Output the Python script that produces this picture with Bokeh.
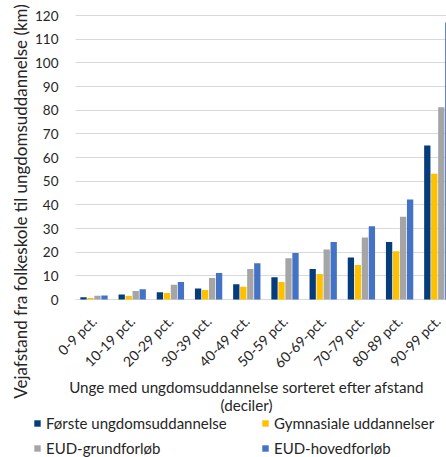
import math
from bokeh.plotting import figure
from bokeh.models import (Range1d, FixedTicker, Label, Legend, LegendItem, ColumnDataSource,
                          BoxAnnotation)
from bokeh.transform import dodge
from bokeh.embed import file_html
from bokeh.resources import INLINE

categories = ["0-9 pct.", "10-19 pct.", "20-29 pct.", "30-39 pct.", "40-49 pct.",
              "50-59 pct.", "60-69-pct.", "70-79 pct.", "80-89 pct.", "90-99 pct."]
series_names = ["Første ungdomsuddannelse", "Gymnasiale uddannelser",
                "EUD-grundforløb", "EUD-hovedforløb"]
forste = [0.9, 2.1, 3.1, 4.7, 6.4, 9.4, 12.9, 17.7, 24.3, 65.1]
gymnasiale = [0.6, 1.5, 2.7, 4.0, 5.4, 7.4, 10.8, 14.6, 20.4, 53.1]
eud_grund = [1.6, 3.6, 6.2, 9.1, 12.9, 17.4, 21.1, 26.2, 35.0, 81.2]
eud_hoved = [1.7, 4.3, 7.4, 11.2, 15.3, 19.6, 24.3, 31.0, 42.3, 117.0]
y_ticks = [0, 10, 20, 30, 40, 50, 60, 70, 80, 90, 100, 110, 120]
y_title = "Vejafstand fra folkeskole til ungdomsuddannelse (km)"
x_title_1 = "Unge med ungdomsuddannelse sorteret efter afstand"
x_title_2 = "(deciler)"

colors = ["#053D7C", "#FFC000", "#A5A5A5", "#4472C4"]
FONT = "Lato"
TXT = "#262626"

# layout: the plot frame covers the whole canvas; axes are pinned inside it
X_LEFT_EDGE = -0.4843  # left end of the value area (category units)

src = ColumnDataSource(dict(x=list(range(len(categories))), s0=forste, s1=gymnasiale,
                            s2=eud_grund, s3=eud_hoved))

p = figure(width=446, height=457, output_backend="svg", toolbar_location=None,
           x_range=Range1d(-2.4476, 9.2277), y_range=Range1d(-66.76, 126.34),
           min_border=0)
p.outline_line_color = None
p.background_fill_color = "white"
p.border_fill_color = "white"

p.xgrid.grid_line_color = None
p.ygrid.grid_line_color = "#D9D9D9"
p.ygrid.grid_line_width = 1
p.add_layout(BoxAnnotation(right=X_LEFT_EDGE, fill_color="white", fill_alpha=1.0,
                           line_color=None, level="underlay"))

offsets = [-0.275, -0.092, 0.092, 0.275]
renderers = []
for i, off in enumerate(offsets):
    r = p.vbar(x=dodge("x", off, range=p.x_range), top="s%d" % i, bottom=0, width=0.165,
               source=src, fill_color=colors[i], line_color=None)
    renderers.append(r)

p.yaxis.fixed_location = X_LEFT_EDGE
p.yaxis.ticker = FixedTicker(ticks=y_ticks)
p.yaxis.axis_line_color = None
p.yaxis.major_tick_line_color = None
p.yaxis.minor_tick_line_color = None
p.yaxis.major_tick_out = 0
p.yaxis.major_tick_in = 0
p.yaxis.major_label_standoff = 17
p.yaxis.major_label_text_font = FONT
p.yaxis.major_label_text_font_size = "13.5px"
p.yaxis.major_label_text_color = TXT

p.xaxis.fixed_location = 0
p.xaxis.ticker = FixedTicker(ticks=list(range(len(categories))))
p.xaxis.major_label_overrides = {i: c for i, c in enumerate(categories)}
p.xaxis.major_label_orientation = math.pi / 4
p.xaxis.axis_line_color = None
p.xaxis.major_tick_line_color = None
p.xaxis.minor_tick_line_color = None
p.xaxis.major_tick_out = 0
p.xaxis.major_tick_in = 0
p.xaxis.major_label_standoff = 19
p.xaxis.major_label_text_font = FONT
p.xaxis.major_label_text_font_size = "14px"
p.xaxis.major_label_text_color = TXT

p.add_layout(Label(x=20, y=256, x_units="screen", y_units="screen", text=y_title,
                   angle=math.pi / 2, text_align="center", text_baseline="middle",
                   text_font=FONT, text_font_size="17px", text_color=TXT))
p.add_layout(Label(x=246, y=71, x_units="screen", y_units="screen", text=x_title_1,
                   text_align="center", text_baseline="middle",
                   text_font=FONT, text_font_size="15.2px", text_color=TXT))
p.add_layout(Label(x=246, y=53, x_units="screen", y_units="screen", text=x_title_2,
                   text_align="center", text_baseline="middle",
                   text_font=FONT, text_font_size="15.2px", text_color=TXT))

legend_order = [0, 2, 1, 3]  # fills column by column: col 1 = items 0, 2
legend = Legend(items=[LegendItem(label=series_names[i], renderers=[renderers[i]]) for i in legend_order],
                ncols=2, location=(33, 0), orientation="vertical",
                glyph_width=8, glyph_height=8, label_standoff=5, label_width=208,
                label_height=18, spacing=7, padding=0, margin=0,
                border_line_color=None, background_fill_alpha=0,
                label_text_font=FONT, label_text_font_size="15px", label_text_color=TXT)
p.add_layout(legend, "center")

open("out.html", "w").write(file_html(p, INLINE))
